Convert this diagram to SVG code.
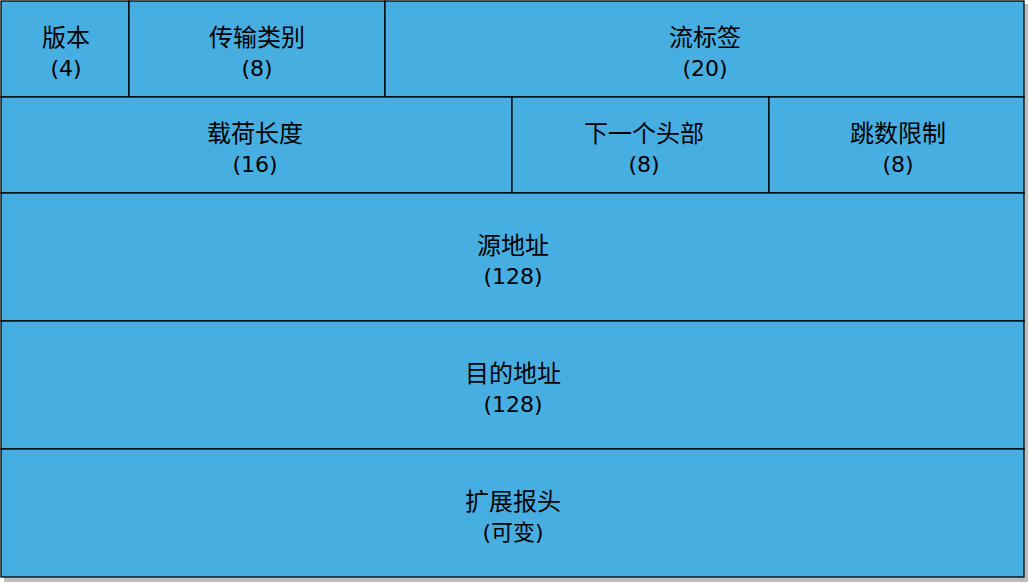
<svg xmlns="http://www.w3.org/2000/svg" width="1029" height="583" viewBox="0 0 1029 583">
<style>
.c{fill:#47AEE2;stroke:#000;stroke-width:1.3}
.t{font-family:"Noto Sans CJK SC","Noto Sans",sans-serif;font-size:24px;fill:#000;text-anchor:middle}
.n{font-family:"DejaVu Sans","Noto Sans CJK SC",sans-serif;font-size:22px;fill:#000;text-anchor:middle}
</style>
<rect width="1029" height="583" fill="#fff"/>
<rect x="4" y="4" width="1024" height="578" fill="#bdbdbd"/>
<g id="version"><rect class="c" x="1" y="1" width="128" height="96"/><text class="t" x="66" y="46">版本</text><text class="n" x="66" y="76">(4)</text></g>
<g id="traffic-class"><rect class="c" x="129" y="1" width="256" height="96"/><text class="t" x="257" y="46">传输类别</text><text class="n" x="257" y="76">(8)</text></g>
<g id="flow-label"><rect class="c" x="385" y="1" width="639" height="96"/><text class="t" x="705" y="46">流标签</text><text class="n" x="705" y="76">(20)</text></g>
<g id="payload-length"><rect class="c" x="1" y="97" width="511" height="96"/><text class="t" x="255" y="142">载荷长度</text><text class="n" x="255" y="172">(16)</text></g>
<g id="next-header"><rect class="c" x="512" y="97" width="257" height="96"/><text class="t" x="644" y="142">下一个头部</text><text class="n" x="644" y="172">(8)</text></g>
<g id="hop-limit"><rect class="c" x="769" y="97" width="255" height="96"/><text class="t" x="898" y="142">跳数限制</text><text class="n" x="898" y="172">(8)</text></g>
<g id="source"><rect class="c" x="1" y="193" width="1023" height="128"/><text class="t" x="513" y="254">源地址</text><text class="n" x="513" y="284">(128)</text></g>
<g id="destination"><rect class="c" x="1" y="321" width="1023" height="128"/><text class="t" x="513" y="382">目的地址</text><text class="n" x="513" y="412">(128)</text></g>
<g id="extension"><rect class="c" x="1" y="449" width="1023" height="128"/><text class="t" x="513" y="510">扩展报头</text><text class="n" x="513" y="540">(可变)</text></g>
<g id="connectors"/>
</svg>
